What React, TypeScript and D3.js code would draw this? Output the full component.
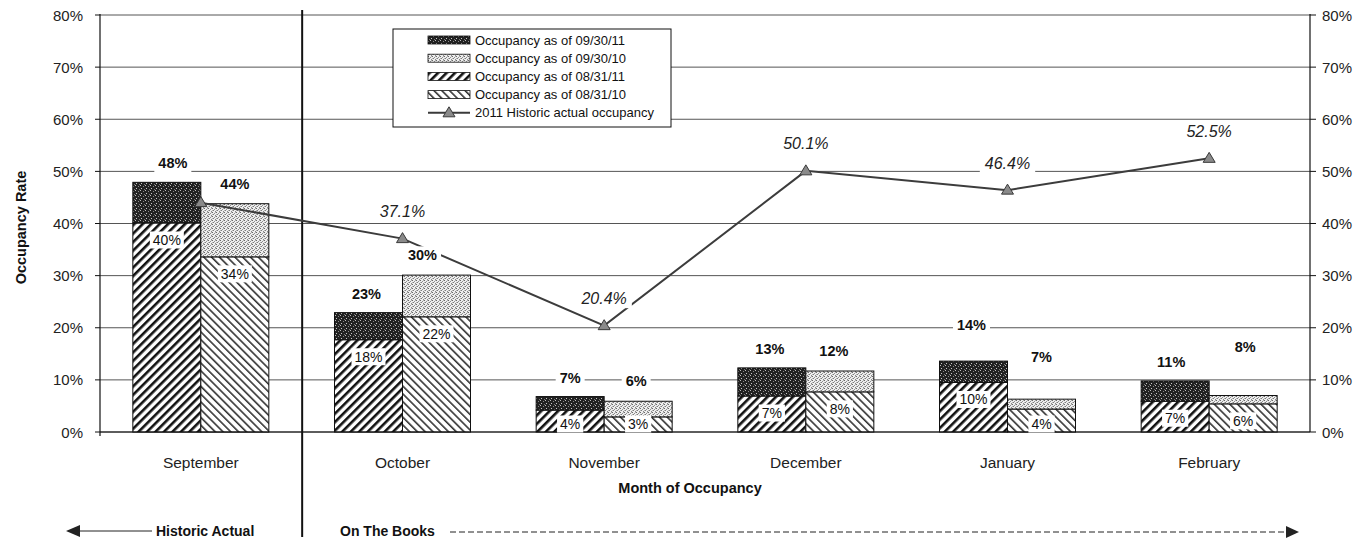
import React from "react";
import * as d3 from "d3";

const months = ["September", "October", "November", "December", "January", "February"];
const occ0930_11 = [47.9, 22.9, 6.8, 12.3, 13.6, 9.8];
const occ0930_10 = [43.8, 30.1, 5.9, 11.7, 6.3, 7.0];
const occ0831_11 = [40.1, 17.7, 4.2, 6.9, 9.5, 5.9];
const occ0831_10 = [33.6, 22.1, 2.9, 7.7, 4.4, 5.4];
const actual2011 = [44.0, 37.1, 20.4, 50.1, 46.4, 52.5];
const labels0930_11 = ["48%", "23%", "7%", "13%", "14%", "11%"];
const labels0930_10 = ["44%", "30%", "6%", "12%", "7%", "8%"];
const labels0831_11 = ["40%", "18%", "4%", "7%", "10%", "7%"];
const labels0831_10 = ["34%", "22%", "3%", "8%", "4%", "6%"];
const actualLabels = ["", "37.1%", "20.4%", "50.1%", "46.4%", "52.5%"];
const yTicks = [0, 10, 20, 30, 40, 50, 60, 70, 80];
const legendItems = [
  "Occupancy as of 09/30/11",
  "Occupancy as of 09/30/10",
  "Occupancy as of 08/31/11",
  "Occupancy as of 08/31/10",
  "2011 Historic actual occupancy",
];

// layout-only nudges for a few hand-placed labels (px)
const raise11 = [0, 0, 0, 0, 17, 0];
const raise10 = [0, 0, 0, 0, 22, 29];
const shift10 = [0, -14, -2, -6, 0, 2];
const shift11 = [6, -2, 0, -2, -2, -4];

const FONT = "'Liberation Sans', Arial, Helvetica, sans-serif";
const L = 100, R = 1310, T = 15, B = 432;

function textW(s: string, fs: number) {
  let w = 0;
  for (const c of s) {
    if (c === "%") w += 0.889;
    else if (c === ".") w += 0.278;
    else w += 0.556;
  }
  return w * fs;
}

function Label({ x, y, text, fs, bold, italic, pad = 3, color = "#111" }: any) {
  const w = textW(text, fs) + pad * 2;
  const h = fs + 3;
  return (
    <g>
      <rect x={x - w / 2} y={y - h / 2} width={w} height={h} fill="#fff" />
      <text
        x={x}
        y={y}
        textAnchor="middle"
        dominantBaseline="central"
        fontSize={fs}
        fontWeight={bold ? "bold" : "normal"}
        fontStyle={italic ? "italic" : "normal"}
        fill={color}
      >
        {text}
      </text>
    </g>
  );
}

function Tri({ x, y }: { x: number; y: number }) {
  return (
    <path
      d={`M${x},${y - 6} L${x + 6},${y + 4} L${x - 6},${y + 4} Z`}
      fill="#8a8a8a"
      stroke="#3a3a3a"
      strokeWidth={1}
    />
  );
}

export default function App() {
  const x = d3.scaleBand<string>().domain(months).range([L, R]).padding(0);
  const bw = x.bandwidth();
  const pairW = 136;
  const sub = d3.scaleBand<string>().domain(["y11", "y10"]).range([0, pairW]).padding(0);
  const sw = sub.bandwidth();
  const y = d3.scaleLinear().domain([0, 80]).range([B, T]);
  const cx = (m: string) => (x(m) as number) + bw / 2;
  const bx = (m: string, k: string) => (x(m) as number) + (bw - pairW) / 2 + (sub(k) as number);

  const line = d3
    .line<number>()
    .x((_, i) => cx(months[i]))
    .y((d) => y(d));

  const sepX = (x(months[1]) as number) + 0.5;
  const legX = 393, legY = 29, legW = 278, legH = 98;
  const legStep = 18.2;

  return (
    <svg width={1369} height={544} style={{ display: "block", position: "absolute", left: 0, top: 0 }} fontFamily={FONT}>
      <defs>
        <pattern id="darkDots" width={5} height={5} patternUnits="userSpaceOnUse">
          <rect width={5} height={5} fill="#222" />
          <rect x={0} y={0} width={1} height={1} fill="#bdbdbd" />
          <rect x={3} y={1} width={1} height={1} fill="#8a8a8a" />
          <rect x={1} y={3} width={1} height={1} fill="#c8c8c8" />
          <rect x={4} y={4} width={1} height={1} fill="#777" />
        </pattern>
        <pattern id="lightDots" width={4} height={4} patternUnits="userSpaceOnUse">
          <rect width={4} height={4} fill="#eeeeee" />
          <rect x={0} y={0} width={1} height={1} fill="#6a6a6a" />
          <rect x={2} y={1} width={1} height={1} fill="#909090" />
          <rect x={1} y={2} width={1} height={1} fill="#7c7c7c" />
          <rect x={3} y={3} width={1} height={1} fill="#8a8a8a" />
          <rect x={3} y={0} width={1} height={1} fill="#b0b0b0" />
          <rect x={0} y={2} width={1} height={1} fill="#b4b4b4" />
        </pattern>
        <pattern id="hatchFwd" width={6} height={6} patternUnits="userSpaceOnUse" patternTransform="rotate(45)">
          <rect width={6} height={6} fill="#fff" />
          <rect x={0} y={0} width={2.6} height={6} fill="#111" />
        </pattern>
        <pattern id="hatchBack" width={5.5} height={5.5} patternUnits="userSpaceOnUse" patternTransform="rotate(-45)">
          <rect width={5.5} height={5.5} fill="#fff" />
          <rect x={0} y={0} width={1.6} height={5.5} fill="#333" />
        </pattern>
      </defs>

      {/* gridlines */}
      {yTicks.map((t) => (
        <line key={t} x1={L} x2={R} y1={y(t)} y2={y(t)} stroke="#555" strokeWidth={1} />
      ))}

      {/* bars */}
      {months.map((m, i) => {
        const x1 = bx(m, "y11"), x2 = bx(m, "y10");
        return (
          <g key={m} stroke="#111" strokeWidth={1}>
            <rect x={x1} y={y(occ0831_11[i])} width={sw} height={B - y(occ0831_11[i])} fill="url(#hatchFwd)" />
            <rect x={x1} y={y(occ0930_11[i])} width={sw} height={y(occ0831_11[i]) - y(occ0930_11[i])} fill="url(#darkDots)" />
            <rect x={x2} y={y(occ0831_10[i])} width={sw} height={B - y(occ0831_10[i])} fill="url(#hatchBack)" />
            <rect x={x2} y={y(occ0930_10[i])} width={sw} height={y(occ0831_10[i]) - y(occ0930_10[i])} fill="url(#lightDots)" />
          </g>
        );
      })}

      {/* axes */}
      <line x1={L} x2={R} y1={B} y2={B} stroke="#111" strokeWidth={1} />
      <line x1={L} x2={L} y1={T - 1} y2={B + 4} stroke="#111" strokeWidth={1.2} />
      <line x1={R} x2={R} y1={T - 1} y2={B} stroke="#111" strokeWidth={1.2} />
      {yTicks.map((t) => (
        <g key={"tk" + t}>
          <line x1={L - 5} x2={L} y1={y(t)} y2={y(t)} stroke="#111" />
          <line x1={R} x2={R + 6} y1={y(t)} y2={y(t)} stroke="#111" />
          <text x={83} y={y(t)} textAnchor="end" dominantBaseline="central" fontSize={15} fill="#222">
            {t}%
          </text>
          <text x={1322} y={y(t)} textAnchor="start" dominantBaseline="central" fontSize={15} fill="#222">
            {t}%
          </text>
        </g>
      ))}

      {/* legend */}
      <rect x={legX} y={legY} width={legW} height={legH} fill="#fff" stroke="#111" strokeWidth={1} />
      {legendItems.map((s, i) => {
        const ly = legY + 11 + i * legStep;
        const fills = ["url(#darkDots)", "url(#lightDots)", "url(#hatchFwd)", "url(#hatchBack)"];
        return (
          <g key={s}>
            {i < 4 ? (
              <rect x={428} y={ly - 4} width={42} height={8} fill={fills[i]} stroke="#111" strokeWidth={0.8} />
            ) : (
              <g>
                <line x1={428} x2={470} y1={ly} y2={ly} stroke="#3a3a3a" strokeWidth={2} />
                <Tri x={449} y={ly} />
              </g>
            )}
            <text x={475} y={ly} dominantBaseline="central" fontSize={13} fill="#111">
              {s}
            </text>
          </g>
        );
      })}

      {/* separator */}
      <line x1={sepX} x2={sepX} y1={10} y2={537} stroke="#111" strokeWidth={2} />

      {/* actual line */}
      <path d={line(actual2011) as string} fill="none" stroke="#3c3c3c" strokeWidth={2} />
      {actual2011.map((v, i) => (
        <Tri key={"m" + i} x={cx(months[i])} y={y(v)} />
      ))}
      {actual2011.map((v, i) =>
        actualLabels[i] ? (
          <Label key={"al" + i} x={cx(months[i])} y={y(v) - 27} text={actualLabels[i]} fs={16} italic pad={5} color="#222" />
        ) : null
      )}

      {/* bar labels */}
      {months.map((m, i) => {
        const c1 = bx(m, "y11") + sw / 2, c2 = bx(m, "y10") + sw / 2;
        return (
          <g key={"lb" + m}>
            <Label x={c1 + shift11[i]} y={y(occ0930_11[i]) - 19 - raise11[i]} text={labels0930_11[i]} fs={14.5} bold pad={4} />
            <Label x={c2 + shift10[i]} y={y(occ0930_10[i]) - 20 - raise10[i]} text={labels0930_10[i]} fs={14.5} bold pad={4} />
            <Label x={c1} y={Math.min(y(occ0831_11[i]) + 17, 424)} text={labels0831_11[i]} fs={14} pad={3} />
            <Label x={c2} y={Math.min(y(occ0831_10[i]) + 17, 424)} text={labels0831_10[i]} fs={14} pad={3} />
          </g>
        );
      })}

      {/* category labels */}
      {months.map((m) => (
        <text key={"c" + m} x={cx(m)} y={462} textAnchor="middle" dominantBaseline="central" fontSize={15.5} fill="#222">
          {m}
        </text>
      ))}
      <text x={690} y={488} textAnchor="middle" dominantBaseline="central" fontSize={14.5} fontWeight="bold" fill="#111">
        Month of Occupancy
      </text>
      <text
        transform={`translate(21,${(T + B) / 2 + 4}) rotate(-90)`}
        textAnchor="middle"
        dominantBaseline="central"
        fontSize={14.5}
        fontWeight="bold"
        fill="#111"
      >
        Occupancy Rate
      </text>

      {/* bottom annotations */}
      <path d="M66,531 L80,525 L80,537 Z" fill="#222" />
      <line x1={80} x2={152} y1={531} y2={531} stroke="#222" strokeWidth={1} />
      <text x={156} y={531} dominantBaseline="central" fontSize={14} fontWeight="bold" fill="#111">
        Historic Actual
      </text>
      <text x={340} y={531} dominantBaseline="central" fontSize={14} fontWeight="bold" fill="#111">
        On The Books
      </text>
      <line x1={450} x2={1287} y1={532} y2={532} stroke="#222" strokeWidth={1} strokeDasharray="6,3" />
      <path d="M1299,532 L1286,526 L1286,538 Z" fill="#222" />
    </svg>
  );
}
